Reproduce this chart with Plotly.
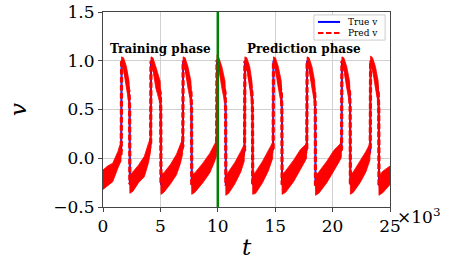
import plotly.graph_objects as go

# time samples (t) and values
t_vals = [0, 400, 850, 1300, 1450, 1570,
          1590, 1620, 1790, 2040, 2270, 2320, 2340,
          2600, 3100, 3600, 3950, 4130,
          4150, 4180, 4350, 4600, 4980, 5030, 5050,
          5300, 5900, 6400, 6750, 6930,
          6950, 6980, 7150, 7400, 7660, 7710, 7730,
          8000, 8700, 9300, 9700, 9880,
          9900, 9930, 10100, 10350, 10630, 10680, 10700,
          10950, 11500, 12000, 12300,
          12330, 12360, 12530, 12780, 12970, 13020, 13040,
          13300, 13900, 14400, 14780,
          14820, 14850, 15020, 15270, 15530, 15580, 15600,
          15900, 16600, 17200, 17600, 17730,
          17750, 17780, 17950, 18200, 18440, 18490, 18510,
          18800, 19500, 20100, 20600, 20760,
          20780, 20810, 20980, 21230, 21480, 21530, 21550,
          21800, 22400, 22900, 23250,
          23280, 23310, 23480, 23730, 23970, 24020, 24040,
          24400, 25000]

v_true = [-0.22, -0.18, -0.14, -0.02, 0.03, 0.05,
          0.10, 1.00, 0.97, 0.84, 0.67, 0.50, -0.27,
          -0.24, -0.16, -0.08, 0.04, 0.12,
          0.14, 1.00, 0.97, 0.84, 0.67, 0.50, -0.27,
          -0.25, -0.16, -0.07, 0.04, 0.10,
          0.12, 1.00, 0.97, 0.84, 0.67, 0.50, -0.27,
          -0.25, -0.15, -0.05, 0.04, 0.10,
          0.12, 1.01, 0.97, 0.84, 0.67, 0.50, -0.28,
          -0.25, -0.15, -0.04, 0.05,
          0.07, 1.00, 0.97, 0.84, 0.67, 0.50, -0.27,
          -0.25, -0.14, -0.03, 0.08,
          0.10, 1.00, 0.97, 0.84, 0.67, 0.50, -0.27,
          -0.24, -0.13, -0.02, 0.05, 0.08,
          0.10, 1.00, 0.97, 0.84, 0.67, 0.50, -0.28,
          -0.25, -0.14, -0.03, 0.05, 0.09,
          0.10, 1.00, 0.97, 0.84, 0.67, 0.50, -0.27,
          -0.24, -0.14, -0.04, 0.06,
          0.08, 1.00, 0.97, 0.84, 0.67, 0.50, -0.28,
          -0.24, -0.17]

v_pred_hi = [-0.12, -0.08, -0.05, 0.07, 0.13, 0.12,
             0.15, 1.04, 1.03, 0.94, 0.79, 0.58, -0.17,
             -0.14, -0.07, 0.02, 0.15, 0.21,
             0.20, 1.04, 1.03, 0.94, 0.79, 0.58, -0.16,
             -0.15, -0.06, 0.04, 0.14, 0.20,
             0.19, 1.04, 1.03, 0.94, 0.79, 0.58, -0.17,
             -0.15, -0.05, 0.05, 0.13, 0.18,
             0.20, 1.06, 1.03, 0.94, 0.79, 0.58, -0.18,
             -0.14, -0.04, 0.07, 0.13,
             0.15, 1.04, 1.03, 0.94, 0.79, 0.58, -0.17,
             -0.14, -0.03, 0.08, 0.16,
             0.17, 1.04, 1.03, 0.94, 0.79, 0.58, -0.17,
             -0.13, -0.02, 0.09, 0.14, 0.15,
             0.17, 1.04, 1.03, 0.94, 0.79, 0.58, -0.18,
             -0.14, -0.03, 0.08, 0.14, 0.17,
             0.17, 1.04, 1.03, 0.94, 0.79, 0.58, -0.17,
             -0.14, -0.03, 0.07, 0.15,
             0.16, 1.05, 1.03, 0.94, 0.79, 0.58, -0.18,
             -0.13, -0.08]

v_pred_lo = [-0.32, -0.28, -0.24, -0.10, -0.06, -0.03,
             0.03, 0.95, 0.91, 0.72, 0.56, 0.44, -0.36,
             -0.34, -0.25, -0.19, -0.05, 0.06,
             0.08, 0.95, 0.91, 0.72, 0.56, 0.44, -0.37,
             -0.35, -0.26, -0.17, -0.05, 0.04,
             0.05, 0.95, 0.91, 0.72, 0.56, 0.44, -0.37,
             -0.35, -0.25, -0.15, -0.04, 0.02,
             0.04, 0.95, 0.91, 0.72, 0.56, 0.44, -0.38,
             -0.36, -0.26, -0.14, -0.03,
             0.00, 0.95, 0.91, 0.72, 0.56, 0.44, -0.37,
             -0.36, -0.25, -0.13, 0.00,
             0.03, 0.95, 0.91, 0.72, 0.56, 0.44, -0.37,
             -0.35, -0.24, -0.12, -0.03, 0.00,
             0.03, 0.95, 0.91, 0.72, 0.56, 0.44, -0.38,
             -0.36, -0.25, -0.13, -0.03, 0.01,
             0.03, 0.95, 0.91, 0.72, 0.56, 0.44, -0.37,
             -0.35, -0.25, -0.14, -0.02,
             0.01, 0.95, 0.91, 0.72, 0.56, 0.44, -0.38,
             -0.35, -0.27]

v_pred = [(h + l) / 2 for h, l in zip(v_pred_hi, v_pred_lo)]

x_tickvals = [0, 5000, 10000, 15000, 20000, 25000]
x_ticktext = ["0", "5", "10", "15", "20", "25"]
y_tickvals = [-0.5, 0.0, 0.5, 1.0, 1.5]
split_t = 10000
series_names = ["True v", "Pred v"]

FONT = "DejaVu Serif"
RED_DASH = "5.5px,2.5px"

fig = go.Figure()
fig.add_trace(go.Scatter(x=t_vals, y=v_true, mode="lines", name=series_names[0],
                         line=dict(color="blue", width=2), showlegend=False))
fig.add_trace(go.Scatter(x=t_vals + t_vals[::-1], y=v_pred_hi + v_pred_lo[::-1],
                         mode="lines", fill="toself", fillcolor="red",
                         line=dict(color="red", width=0.8), showlegend=False,
                         hoverinfo="skip"))
fig.add_trace(go.Scatter(x=t_vals, y=v_pred, mode="lines", name=series_names[1],
                         line=dict(color="red", width=3.2, dash=RED_DASH), showlegend=False))

fig.add_shape(type="line", x0=split_t, x1=split_t, xref="x", y0=0, y1=1, yref="paper",
              line=dict(color="green", width=2.5))

# hand-made legend box (matplotlib-like compact legend)
fig.add_shape(type="rect", xref="paper", yref="paper", x0=0.735, x1=0.983, y0=0.856, y1=0.985,
              fillcolor="white", line=dict(color="#cccccc", width=1), layer="above")
fig.add_shape(type="line", xref="paper", yref="paper", x0=0.749, x1=0.826, y0=0.949, y1=0.949,
              line=dict(color="blue", width=2), layer="above")
fig.add_shape(type="line", xref="paper", yref="paper", x0=0.749, x1=0.826, y0=0.892, y1=0.892,
              line=dict(color="red", width=2, dash=RED_DASH), layer="above")
fig.add_annotation(x=0.845, y=0.949, xref="paper", yref="paper", xanchor="left", yanchor="middle",
                   text=series_names[0], showarrow=False,
                   font=dict(family=FONT, size=9, color="black"))
fig.add_annotation(x=0.845, y=0.892, xref="paper", yref="paper", xanchor="left", yanchor="middle",
                   text=series_names[1], showarrow=False,
                   font=dict(family=FONT, size=9, color="black"))

fig.add_annotation(x=5000, y=1.12, text="<b>Training phase</b>", showarrow=False,
                   font=dict(family=FONT, size=12, color="black"))
fig.add_annotation(x=17500, y=1.12, text="<b>Prediction phase</b>", showarrow=False,
                   font=dict(family=FONT, size=12, color="black"))
fig.add_annotation(x=1.019, y=-0.046, xref="paper", yref="paper", xanchor="left",
                   yanchor="middle", text="×10<sup>3</sup>", showarrow=False,
                   font=dict(family=FONT, size=17, color="black"))

axis_common = dict(showline=True, mirror=True, linecolor="#444", linewidth=1,
                   showgrid=True, gridcolor="#d0d0d0", gridwidth=1, automargin=False,
                   ticks="outside", ticklen=4, tickcolor="#444", zeroline=False,
                   tickfont=dict(family=FONT, size=17, color="black"))

fig.update_xaxes(range=[0, 25000], tickvals=x_tickvals, ticktext=x_ticktext,
                 title=dict(text="t", standoff=3,
                            font=dict(family=FONT, size=23, style="italic", color="black")),
                 **axis_common)
fig.update_yaxes(range=[-0.5, 1.5], tickvals=y_tickvals, tickformat=".1f",
                 title=dict(text="v", standoff=20,
                            font=dict(family=FONT, size=23, style="italic", color="black")),
                 **axis_common)

fig.update_layout(width=458, height=262,
                  margin=dict(l=103, r=68, t=12, b=55, autoexpand=False),
                  paper_bgcolor="white", plot_bgcolor="white", showlegend=False)

# remove the default 8px page margin so the figure sits at the window's corner
fig.write_html("out.html", config={"displayModeBar": False},
               post_script="document.body.style.margin='0';document.body.style.padding='0';"
                           "document.body.style.overflow='hidden';")
